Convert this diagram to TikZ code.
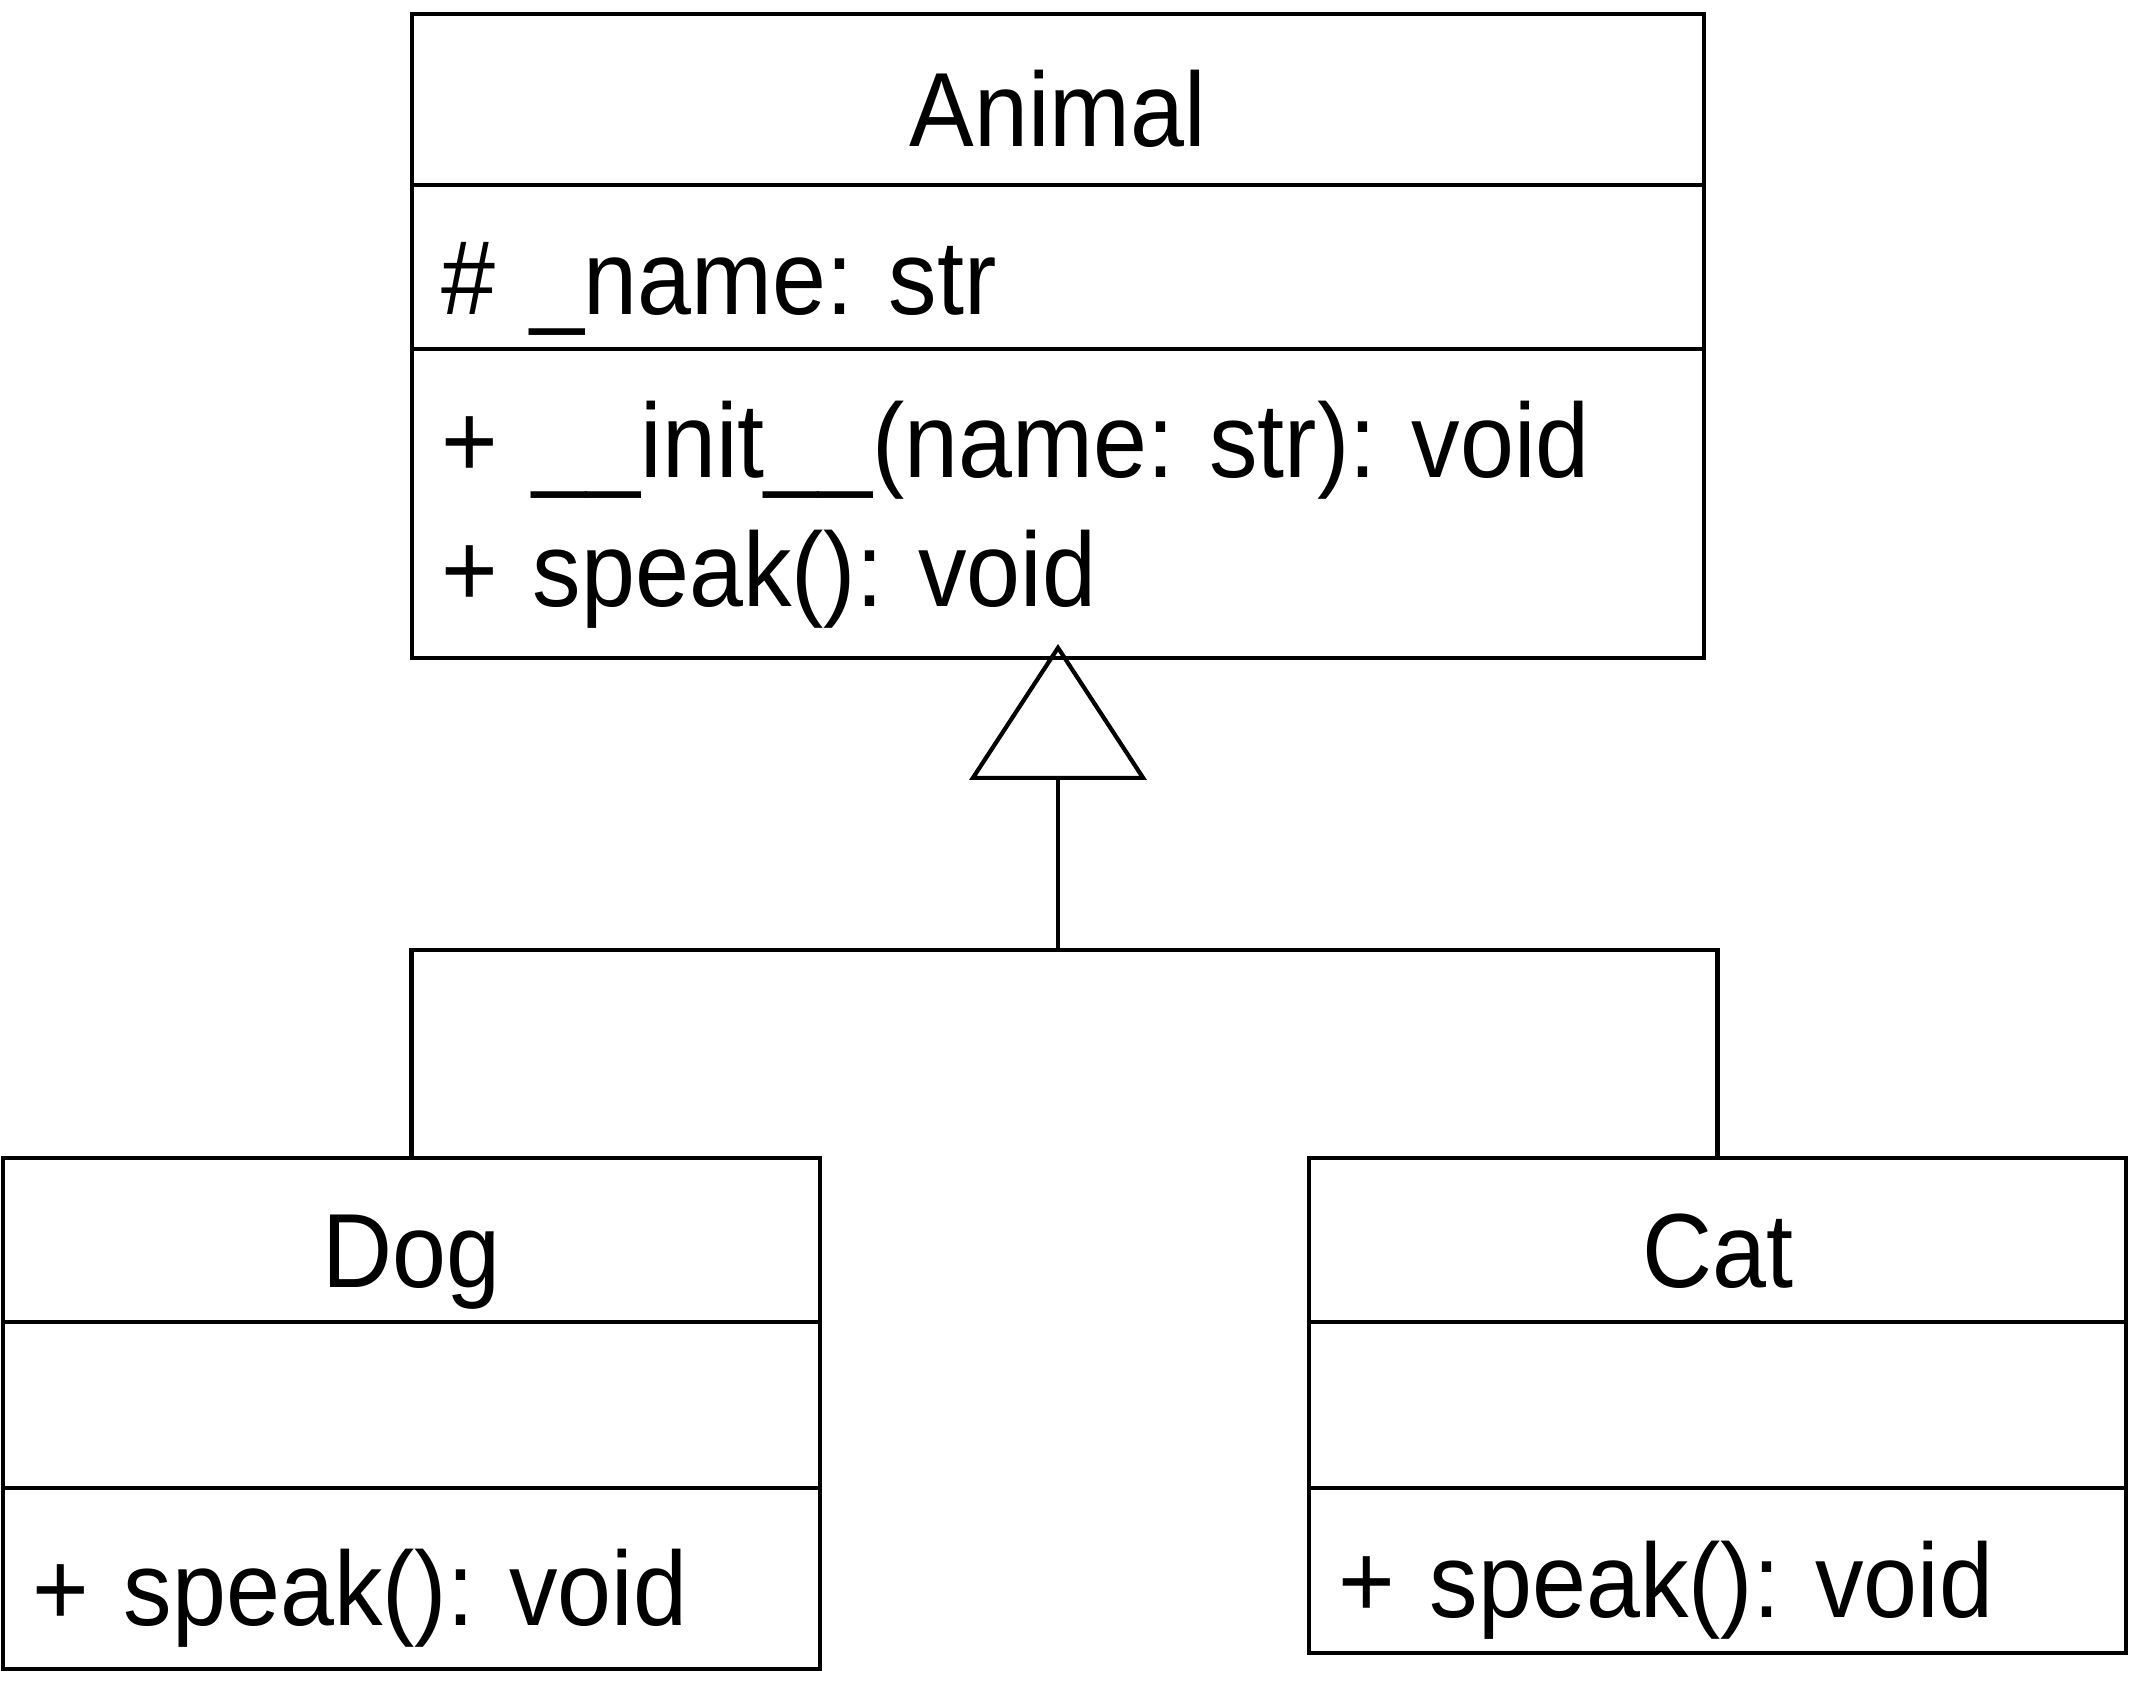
\documentclass[tikz,border=0pt]{standalone}
\usepackage{fontspec}
\setmainfont{Liberation Sans}[FakeStretch=0.92]
\usetikzlibrary{arrows.meta, positioning}
\frenchspacing

\begin{document}
\begin{tikzpicture}[
    part/.style={rectangle, draw, line width=1.2pt, outer sep=0pt, inner xsep=0.29cm, inner ysep=0pt, text height=1.05cm, text depth=0.105cm, font=\fontsize{30}{36.7}\selectfont},
    title/.style={part, align=center},
    member/.style={part, align=left},
    wide/.style={text width=12.34cm},
    narrow/.style={text width=7.59cm},
    link/.style={line width=1.2pt},
    inherit/.style={link, -{Triangle[open, length=1.36cm, width=1.77cm]}, shorten >=-0.14cm},
    node distance=0pt
]
    \useasboundingbox (0,0) rectangle (21.31,17.04);

    % Nodes
    \node[title, wide, minimum height=1.71cm] (animal) at (10.58,16.045) {Animal};
    \node[member, wide, minimum height=1.64cm, below=of animal] (animal-attr) {\# \_name: str};
    \node[member, wide, minimum height=3.09cm, text depth=1.56cm, below=of animal-attr] (animal-ops) {+ \_\_init\_\_(name: str): void\\+ speak(): void};

    \node[title, narrow, minimum height=1.64cm] (dog) at (4.115,4.64) {Dog};
    \node[member, narrow, minimum height=1.66cm, below=of dog] (dog-attr) {};
    \node[member, narrow, minimum height=1.81cm, below=of dog-attr] (dog-ops) {+ speak(): void};

    \node[title, narrow, minimum height=1.64cm] (cat) at (17.175,4.64) {Cat};
    \node[member, narrow, minimum height=1.66cm, below=of cat] (cat-attr) {};
    \node[member, narrow, minimum height=1.65cm, below=of cat-attr] (cat-ops) {+ speak(): void};

    \coordinate (fork) at (10.58,7.54);

    % Arrows
    \draw[link] (dog.north) |- (fork) -| (cat.north);
    \draw[inherit] (fork) -- (animal-ops.south);
\end{tikzpicture}
\end{document}
